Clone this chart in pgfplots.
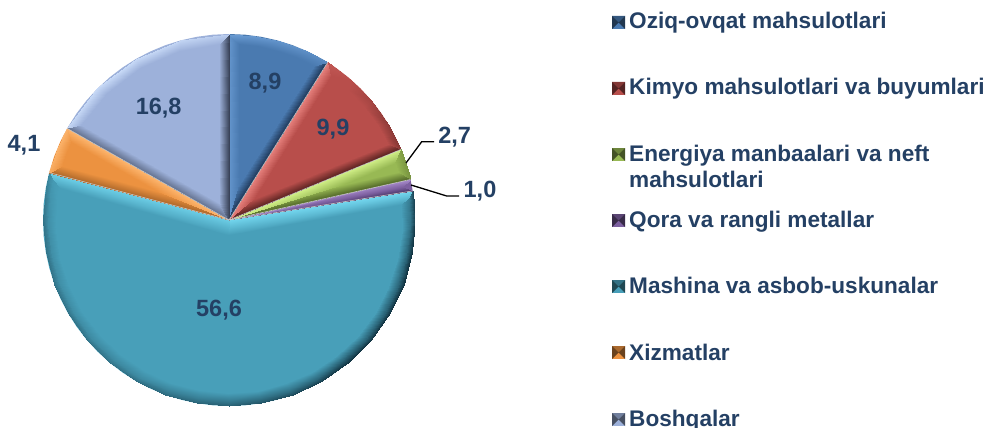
\documentclass[border=0pt]{standalone}
\usepackage{pgfplots}
\pgfplotsset{compat=1.18}
\usepackage{fontspec}
\setmainfont{Liberation Sans}
\definecolor{navy}{RGB}{36,64,100}
\tikzset{
 lab/.style={anchor=base,font=\fontsize{23.5}{23.5}\selectfont\bfseries},
 leg/.style={anchor=base west,font=\fontsize{22.6}{22.6}\selectfont\bfseries},
}
\pgfplotsset{
 colormap={cblue}{rgb255=(24,46,76) rgb255=(74,122,176) rgb255=(116,166,222)},
 colormap={cred}{rgb255=(84,32,30) rgb255=(184,78,75) rgb255=(232,130,126)},
 colormap={cgreen}{rgb255=(72,92,34) rgb255=(152,185,84) rgb255=(210,240,136)},
 colormap={cpurple}{rgb255=(58,40,86) rgb255=(125,96,160) rgb255=(172,144,208)},
 colormap={cteal}{rgb255=(18,52,66) rgb255=(72,159,185) rgb255=(116,216,240)},
 colormap={corange}{rgb255=(132,76,28) rgb255=(236,146,64) rgb255=(255,186,116)},
 colormap={clblue}{rgb255=(40,48,66) rgb255=(157,177,218) rgb255=(204,222,250)},
 table/pol/.style={row sep=\\,x expr={229+\thisrow{r}*sin(\thisrow{a})},y expr={220-\thisrow{r}*cos(\thisrow{a})}},
 band/.style={surf,shader=interp,colormap name=#1,mesh/cols=2,point meta=\thisrow{m}},
 band3/.style={surf,shader=interp,colormap name=#1,mesh/cols=3,point meta=\thisrow{m}},
 lead/.style={black,line width=1.3pt,no marks},
 sep/.style={no marks,line width=.6pt,color=white!78!black},
}
\definecolor{wblue}{RGB}{74,122,176}
\definecolor{wred}{RGB}{184,78,75}
\definecolor{wgreen}{RGB}{152,185,84}
\definecolor{wpurple}{RGB}{125,96,160}
\definecolor{wteal}{RGB}{72,159,185}
\definecolor{worange}{RGB}{236,146,64}
\definecolor{wlblue}{RGB}{157,177,218}
\begin{document}
\begin{tikzpicture}
\path[use as bounding box,clip] (0,0) rectangle (988pt,428pt);
\begin{axis}[at={(0,0)},anchor=south west,scale only axis,width=988pt,height=428pt,
 xmin=0,xmax=988,ymin=0,ymax=428,y dir=reverse,axis lines=none,clip=false,
 point meta min=-1,point meta max=1,
 nodes={text=navy,inner sep=0pt}]
% wedges
\addplot[fill=wblue,draw=none] table[pol] {a r\\0 0\\0 186\\5 186\\10 186\\15 186\\20 186\\25 186\\30 186\\32.04 186\\} -- cycle;
\addplot[fill=wred,draw=none] table[pol] {a r\\0 0\\32.04 186\\35 186\\40 186\\45 186\\50 186\\55 186\\60 186\\65 186\\67.68 186\\} -- cycle;
\addplot[fill=wgreen,draw=none] table[pol] {a r\\0 0\\67.68 186\\70 186\\75 186\\77.4 186\\} -- cycle;
\addplot[fill=wpurple,draw=none] table[pol] {a r\\0 0\\77.4 186\\81 186\\} -- cycle;
\addplot[fill=wteal,draw=none] table[pol] {a r\\0 0\\81 186\\85 186\\90 186\\95 186\\100 186\\105 186\\110 186\\115 186\\120 186\\125 186\\130 186\\135 186\\140 186\\145 186\\150 186\\155 186\\160 186\\165 186\\170 186\\175 186\\180 186\\185 186\\190 186\\195 186\\200 186\\205 186\\210 186\\215 186\\220 186\\225 186\\230 186\\235 186\\240 186\\245 186\\250 186\\255 186\\260 186\\265 186\\270 186\\275 186\\280 186\\284.76 186\\} -- cycle;
\addplot[fill=worange,draw=none] table[pol] {a r\\0 0\\284.76 186\\290 186\\295 186\\299.52 186\\} -- cycle;
\addplot[fill=wlblue,draw=none] table[pol] {a r\\0 0\\299.52 186\\305 186\\310 186\\315 186\\320 186\\325 186\\330 186\\335 186\\340 186\\345 186\\350 186\\355 186\\360 186\\} -- cycle;
% bevels
\addplot[band=cblue] table[pol] {a r m\\0 0 .6\\16.02 36 0\\0 186 .6\\3.26 176 0\\};
\addplot[band=cblue] table[pol] {a r m\\0 0 -.93\\16.02 36 0\\32.04 186 -.93\\28.78 176 0\\};
\addplot[band=cblue] table[pol] {a r m\\0 186 .8\\3.26 176 0\\8 186 .7\\9.6 176 0\\16 186 .6\\16 176 0\\24 186 .5\\22.4 176 0\\32.04 186 .36\\28.78 176 0\\};
\addplot[band=cred] table[pol] {a r m\\0 0 .93\\49.86 32.7 0\\32.04 186 .93\\35.3 176 0\\};
\addplot[band=cred] table[pol] {a r m\\0 0 -.97\\49.86 32.7 0\\67.68 186 -.97\\64.42 176 0\\};
\addplot[band=cred] table[pol] {a r m\\32.04 186 .2\\35.3 176 0\\41 186 0\\42.6 176 0\\50 186 -.2\\49.86 176 0\\59 186 -.4\\57.1 176 0\\67.68 186 -.5\\64.42 176 0\\};
\addplot[band=cgreen] table[pol] {a r m\\0 0 .97\\72.54 118 0\\67.68 186 .97\\70.94 176 0\\};
\addplot[band=cgreen] table[pol] {a r m\\0 0 -.91\\72.54 118 0\\77.4 186 -.91\\74.14 176 0\\};
\addplot[band=cgreen] table[pol] {a r m\\67.68 186 -.3\\70.94 176 0\\77.4 186 -.4\\74.14 176 0\\};
\addplot[band=cpurple] table[pol] {a r m\\0 0 .9\\79.2 60 0\\77.4 186 .9\\79.2 176 0\\};
\addplot[band=cpurple] table[pol] {a r m\\0 0 -.88\\79.2 60 0\\81 186 -.88\\79.2 176 0\\};
\addplot[band=cteal] table[pol] {a r m\\0 0 .95\\182.88 15 0\\81 186 .95\\84.9 176 0\\};
\addplot[band=cteal] table[pol] {a r m\\0 0 .8\\182.88 15 0\\284.76 186 .8\\280.86 176 0\\};
\addplot[band3=cteal] table[pol] {a r m\\
81 186 -.8\\83 181 -.3\\84.9 173 0\\
90 186 -.9\\91.8 181 -.4\\93.6 173 0\\
100 186 -1\\101.6 181 -.5\\103.2 173 0\\
110 186 -1\\111.4 181 -.55\\112.8 173 0\\
120 186 -1\\121.2 181 -.55\\122.4 173 0\\
130 186 -1\\131 181 -.55\\132 173 0\\
140 186 -1\\140.8 181 -.55\\141.6 173 0\\
150 186 -.9\\150.6 181 -.5\\151.2 173 0\\
160 186 -.8\\160.4 181 -.45\\160.8 173 0\\
170 186 -.7\\170.2 181 -.4\\170.5 173 0\\
180 186 -.6\\180 181 -.35\\180.2 173 0\\
190 186 -.55\\190 181 -.3\\189.9 173 0\\
200 186 -.5\\199.8 181 -.25\\199.5 173 0\\
210 186 -.45\\209.5 181 -.2\\209.1 173 0\\
220 186 -.4\\219.3 181 -.2\\218.7 173 0\\
230 186 -.4\\229.1 181 -.18\\228.3 173 0\\
240 186 -.4\\239 181 -.15\\237.9 173 0\\
250 186 -.4\\248.8 181 -.15\\247.5 173 0\\
260 186 -.4\\258.5 181 -.15\\257.1 173 0\\
270 186 -.4\\268.3 181 -.15\\266.7 173 0\\
280 186 -.3\\278.1 181 -.1\\276.3 173 0\\
284.76 186 -.2\\282.8 181 -.05\\280.86 173 0\\};
\addplot[band=corange] table[pol] {a r m\\0 0 -.62\\292.14 78 0\\284.76 186 -.62\\288.02 176 0\\};
\addplot[band=corange] table[pol] {a r m\\0 0 .9\\292.14 78 0\\299.52 186 .9\\296.26 176 0\\};
\addplot[band=corange] table[pol] {a r m\\284.76 186 .6\\288.02 176 0\\292 186 .8\\292.14 176 0\\299.52 186 .8\\296.26 176 0\\};
\addplot[band=clblue] table[pol] {a r m\\0 0 -.5\\329.76 20 0\\299.52 186 -.5\\302.78 176 0\\};
\addplot[band=clblue] table[pol] {a r m\\0 0 -.85\\329.76 20 0\\360 186 -.85\\356.74 176 0\\};
\addplot[band=clblue] table[pol] {a r m\\299.52 186 .8\\302.78 176 0\\315 186 .9\\316 176 0\\330 186 .9\\329.76 176 0\\345 186 .8\\343.5 176 0\\360 186 .6\\356.74 176 0\\};
% wedge separators
\addplot[sep] table[pol] {a r\\32.04 0\\32.04 186\\};
\addplot[sep] table[pol] {a r\\67.68 0\\67.68 186\\};
\addplot[sep] table[pol] {a r\\77.4 0\\77.4 186\\};
\addplot[sep] table[pol] {a r\\81 0\\81 186\\};
\addplot[sep] table[pol] {a r\\284.76 0\\284.76 186\\};
\addplot[sep] table[pol] {a r\\299.52 0\\299.52 186\\};
% leader lines
\addplot[lead] coordinates {(406,163) (421.7,141.7) (434,141.7)};
\addplot[lead] coordinates {(411,185) (446.7,196) (459,196)};
% value labels
\node[lab] at (axis cs:265,89) {8,9};
\node[lab] at (axis cs:333,135) {9,9};
\node[lab] at (axis cs:454.7,143.5) {2,7};
\node[lab] at (axis cs:480,197.5) {1,0};
\node[lab] at (axis cs:219,316.7) {56,6};
\node[lab] at (axis cs:24,151.7) {4,1};
\node[lab] at (axis cs:158.7,114) {16,8};
% legend keys
\addplot[fill=wblue,draw=none] coordinates {(612,16)(625,16)(625,29)(612,29)} -- cycle;
\addplot[fill=wred,draw=none] coordinates {(612,82)(625,82)(625,95)(612,95)} -- cycle;
\addplot[fill=wgreen,draw=none] coordinates {(612,148)(625,148)(625,161)(612,161)} -- cycle;
\addplot[fill=wpurple,draw=none] coordinates {(612,214)(625,214)(625,227)(612,227)} -- cycle;
\addplot[fill=wteal,draw=none] coordinates {(612,280)(625,280)(625,293)(612,293)} -- cycle;
\addplot[fill=worange,draw=none] coordinates {(612,346)(625,346)(625,359)(612,359)} -- cycle;
\addplot[fill=wlblue,draw=none] coordinates {(612,413)(625,413)(625,426)(612,426)} -- cycle;
\addplot[fill=wblue!72!black,draw=none] coordinates {(612,16)(625,16)(618.5,22.5)} -- cycle;
\addplot[fill=wred!72!black,draw=none] coordinates {(612,82)(625,82)(618.5,88.5)} -- cycle;
\addplot[fill=wgreen!72!black,draw=none] coordinates {(612,148)(625,148)(618.5,154.5)} -- cycle;
\addplot[fill=wpurple!72!black,draw=none] coordinates {(612,214)(625,214)(618.5,220.5)} -- cycle;
\addplot[fill=wteal!72!black,draw=none] coordinates {(612,280)(625,280)(618.5,286.5)} -- cycle;
\addplot[fill=worange!72!black,draw=none] coordinates {(612,346)(625,346)(618.5,352.5)} -- cycle;
\addplot[fill=wlblue!72!black,draw=none] coordinates {(612,413)(625,413)(618.5,419.5)} -- cycle;
\addplot[fill=wblue!45!black,draw=none] coordinates {(612,16)(618.5,22.5)(625,16)(625,29)(618.5,22.5)(612,29)} -- cycle;
\addplot[fill=wred!45!black,draw=none] coordinates {(612,82)(618.5,88.5)(625,82)(625,95)(618.5,88.5)(612,95)} -- cycle;
\addplot[fill=wgreen!45!black,draw=none] coordinates {(612,148)(618.5,154.5)(625,148)(625,161)(618.5,154.5)(612,161)} -- cycle;
\addplot[fill=wpurple!45!black,draw=none] coordinates {(612,214)(618.5,220.5)(625,214)(625,227)(618.5,220.5)(612,227)} -- cycle;
\addplot[fill=wteal!45!black,draw=none] coordinates {(612,280)(618.5,286.5)(625,280)(625,293)(618.5,286.5)(612,293)} -- cycle;
\addplot[fill=worange!45!black,draw=none] coordinates {(612,346)(618.5,352.5)(625,346)(625,359)(618.5,352.5)(612,359)} -- cycle;
\addplot[fill=wlblue!45!black,draw=none] coordinates {(612,413)(618.5,419.5)(625,413)(625,426)(618.5,419.5)(612,426)} -- cycle;
% legend text
\node[leg] at (axis cs:629,29) {Oziq-ovqat mahsulotlari};
\node[leg] at (axis cs:629,95) {Kimyo mahsulotlari va buyumlari};
\node[leg] at (axis cs:629,161) {Energiya manbaalari va neft};
\node[leg] at (axis cs:629,187) {mahsulotlari};
\node[leg] at (axis cs:629,227.5) {Qora va rangli metallar};
\node[leg] at (axis cs:629,293) {Mashina va asbob-uskunalar};
\node[leg] at (axis cs:629,360) {Xizmatlar};
\node[leg] at (axis cs:629,426.5) {Boshqalar};
\end{axis}
\end{tikzpicture}
\end{document}
